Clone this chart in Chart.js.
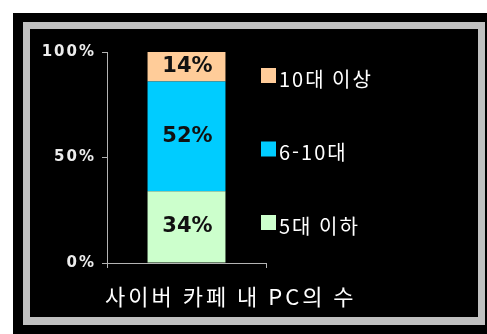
<!DOCTYPE html>
<html lang="ko">
<head>
<meta charset="utf-8">
<title>사이버 카페 내 PC의 수</title>
<script src="https://cdn.jsdelivr.net/npm/chart.js@4"></script>
<style>
  html, body { margin: 0; padding: 0; background: #fff; }
  #wrap { position: relative; width: 487px; height: 334px; }
</style>
</head>
<body>
<div id="wrap"><canvas id="pcChart"></canvas></div>
<script>
const categories = [''];
const seriesNames = ['5대 이하', '6-10대', '10대 이상'];
const under5 = [34];
const from6to10 = [52];
const over10 = [14];
const yTicks = [0, 50, 100];
const xTitle = '사이버 카페 내 PC의 수';

const seriesColors = ['#ccffcc', '#00ccff', '#ffcc99'];
const korFont = "'Noto Sans CJK KR', 'Noto Sans', sans-serif";
const axisGray = '#b4b4b4';

// black panel with the light gray frame
const framePlugin = {
    id: 'frame',
    beforeDraw(chart) {
        const ctx = chart.ctx;
        ctx.save();
        ctx.fillStyle = '#000';
        ctx.fillRect(13, 13, 474, 321);
        ctx.fillStyle = '#c0c0c0';
        ctx.fillRect(23, 22, 462, 303);
        ctx.fillStyle = '#000';
        ctx.fillRect(30, 29, 448, 288);
        ctx.restore();
        ctx.letterSpacing = '2px';
    }
};

// percentage written in the middle of each segment
const segmentLabels = {
    id: 'segmentLabels',
    afterDatasetsDraw(chart) {
        const ctx = chart.ctx;
        ctx.save();
        ctx.letterSpacing = '0px';
        ctx.font = "bold 21px 'DejaVu Sans', sans-serif";
        ctx.fillStyle = '#111';
        ctx.textAlign = 'center';
        ctx.textBaseline = 'middle';
        chart.data.datasets.forEach((ds, i) => {
            chart.getDatasetMeta(i).data.forEach((bar, j) => {
                ctx.fillText(ds.data[j] + '%', bar.x + 1, (bar.y + bar.base) / 2);
            });
        });
        ctx.restore();
    }
};

// legend on the right (top item = top segment) and the axis caption
const sideLegend = {
    id: 'sideLegend',
    afterDraw(chart) {
        const ctx = chart.ctx;
        const area = chart.chartArea;
        ctx.save();
        ctx.font = '20px ' + korFont;
        ctx.textBaseline = 'middle';
        ctx.textAlign = 'left';
        const items = chart.data.datasets.slice().reverse();
        items.forEach((ds, i) => {
            const rowY = 76 + i * 73.5;
            ctx.fillStyle = ds.backgroundColor;
            ctx.fillRect(261, rowY - 8, 15, 15);
            ctx.fillStyle = '#fff';
            ctx.fillText(ds.label, 279, rowY + 3);
        });

        ctx.letterSpacing = '3px';
        ctx.font = '22px ' + korFont;
        ctx.fillStyle = '#fff';
        ctx.fillText(xTitle, area.left - 2, 297);
        ctx.restore();
    }
};

const ctx = document.getElementById('pcChart').getContext('2d');
new Chart(ctx, {
    type: 'bar',
    data: {
        labels: categories,
        datasets: [
            { label: seriesNames[0], data: under5, backgroundColor: seriesColors[0] },
            { label: seriesNames[1], data: from6to10, backgroundColor: seriesColors[1] },
            { label: seriesNames[2], data: over10, backgroundColor: seriesColors[2] }
        ]
    },
    options: {
        responsive: true,
        maintainAspectRatio: false,
        animation: false,
        layout: { padding: { left: 0, top: 52, right: 221, bottom: 61 } },
        datasets: {
            bar: { categoryPercentage: 1, barPercentage: 0.49, borderWidth: 0 }
        },
        plugins: {
            legend: { display: false },
            tooltip: { enabled: false }
        },
        scales: {
            x: {
                stacked: true,
                afterFit: s => { s.height = 10; },
                ticks: { display: false },
                grid: { offset: true, drawOnChartArea: false, tickLength: 5, color: axisGray },
                border: { display: true, color: axisGray, width: 1 }
            },
            y: {
                stacked: true,
                min: yTicks[0],
                max: yTicks[yTicks.length - 1],
                afterFit: s => { s.width = 107; },
                ticks: {
                    stepSize: yTicks[1] - yTicks[0],
                    padding: 6,
                    color: '#ececec',
                    font: { family: "'DejaVu Sans', sans-serif", size: 15, weight: 'bold' },
                    callback: v => v + '%'
                },
                grid: { drawOnChartArea: false, tickLength: 5, color: axisGray },
                border: { display: true, color: axisGray, width: 1 }
            }
        }
    },
    plugins: [framePlugin, segmentLabels, sideLegend]
});
</script>
</body>
</html>
